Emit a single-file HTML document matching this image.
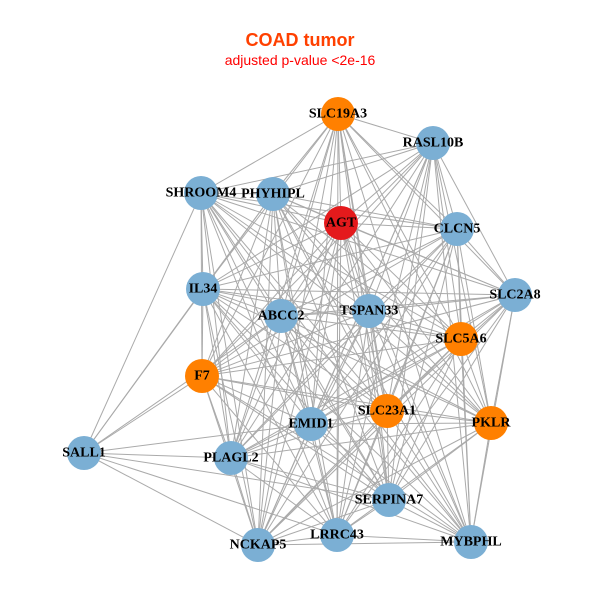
<!DOCTYPE html>
<html><head><meta charset="utf-8"><style>
html,body{margin:0;padding:0;background:#fff;}
svg{display:block;}
text.l{font-family:"Liberation Serif",serif;font-weight:bold;font-size:14px;fill:#000;text-anchor:middle;dominant-baseline:central;}
</style></head><body>
<svg id="s" width="600" height="600" viewBox="0 0 600 600" xmlns="http://www.w3.org/2000/svg">
<text x="300" y="46" text-anchor="middle" font-family="Liberation Sans,sans-serif" font-weight="bold" font-size="18" fill="#ff4000">COAD tumor</text>
<text x="300" y="65" text-anchor="middle" font-family="Liberation Sans,sans-serif" font-size="14" fill="#ff0000">adjusted p-value &lt;2e-16</text>
<g id="e" stroke="#aaaaaa" stroke-width="1"></g>
<g id="n"></g>
<g>
<text class="l" x="338" y="114">SLC19A3</text>
<text class="l" x="433" y="143">RASL10B</text>
<text class="l" x="201" y="193">SHROOM4</text>
<text class="l" x="273" y="194">PHYHIPL</text>
<text class="l" x="341" y="223">AGT</text>
<text class="l" x="457" y="229">CLCN5</text>
<text class="l" x="203" y="289">IL34</text>
<text class="l" x="515" y="295">SLC2A8</text>
<text class="l" x="281" y="316">ABCC2</text>
<text class="l" x="369" y="311">TSPAN33</text>
<text class="l" x="461" y="339">SLC5A6</text>
<text class="l" x="202" y="376">F7</text>
<text class="l" x="311" y="424">EMID1</text>
<text class="l" x="387" y="411">SLC23A1</text>
<text class="l" x="491" y="423">PKLR</text>
<text class="l" x="84" y="453">SALL1</text>
<text class="l" x="231" y="458">PLAGL2</text>
<text class="l" x="389" y="500">SERPINA7</text>
<text class="l" x="258" y="545">NCKAP5</text>
<text class="l" x="337" y="535">LRRC43</text>
<text class="l" x="471" y="542">MYBPHL</text>
</g>
</svg>
<script>
var N=[[338,114,'o'],[433,143,'b'],[201,193,'b'],[273,194,'b'],[341,223,'r'],[457,229,'b'],[203,289,'b'],[515,295,'b'],[281,316,'b'],[369,311,'b'],[461,339,'o'],[202,376,'o'],[311,424,'b'],[387,411,'o'],[491,423,'o'],[84,453,'b'],[231,458,'b'],[389,500,'b'],[258,545,'b'],[337,535,'b'],[471,542,'b']];
var C={o:'#ff8000',b:'#7bafd4',r:'#e41a1c'};
var ns='http://www.w3.org/2000/svg',e=document.getElementById('e'),n=document.getElementById('n');
var sall=[2,6,11,16,18,12,19,8,3,17];
for(var i=0;i<N.length;i++)for(var j=i+1;j<N.length;j++){
 if(i==15||j==15){var o=i==15?j:i;if(sall.indexOf(o)<0)continue;}
 var l=document.createElementNS(ns,'line');l.setAttribute('x1',N[i][0]);l.setAttribute('y1',N[i][1]);l.setAttribute('x2',N[j][0]);l.setAttribute('y2',N[j][1]);e.appendChild(l);}
N.forEach(function(p){var c=document.createElementNS(ns,'circle');c.setAttribute('cx',p[0]);c.setAttribute('cy',p[1]);c.setAttribute('r',17);c.setAttribute('fill',C[p[2]]);n.appendChild(c);});
</script>
</body></html>
